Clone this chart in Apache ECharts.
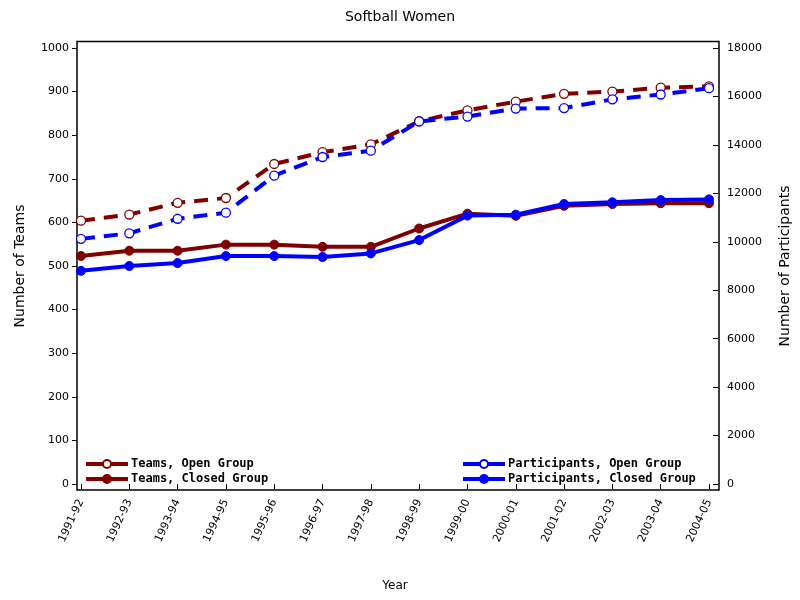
<!DOCTYPE html>
<html>
<head>
<meta charset="utf-8">
<script src="https://cdn.jsdelivr.net/npm/echarts@6/dist/echarts.min.js"></script>
<style>html,body{margin:0;padding:0;background:#fff}#c{width:800px;height:600px}</style>
</head>
<body>
<div id="c"></div>
<script>
var years = ['1991-92','1992-93','1993-94','1994-95','1995-96','1996-97','1997-98','1998-99','1999-00','2000-01','2001-02','2002-03','2003-04','2004-05'];
var teamsOpen = [604, 618, 645, 656, 734, 761, 779, 832, 857, 877, 895, 900, 909, 912];
var teamsClosed = [523, 535, 535, 549, 549, 544, 544, 586, 620, 615, 638, 642, 644, 644];
var partOpen = [10120, 10350, 10950, 11200, 12730, 13500, 13760, 14970, 15170, 15500, 15520, 15880, 16080, 16340];
var partClosed = [8800, 9000, 9120, 9410, 9410, 9370, 9520, 10070, 11080, 11120, 11560, 11630, 11720, 11750];

var DARK = '#800000', BLUE = '#0000ff';
var baseFont = 'DejaVu Sans';
var plain = function (v) { return String(v); };
var legendText = {fontFamily: 'DejaVu Sans Mono', fontSize: 12, fontWeight: 'bold', color: '#000', padding: [0,0,0,-2]};
var chart = echarts.init(document.getElementById('c'), null, {renderer: 'canvas'});
chart.setOption({
  animation: false,
  backgroundColor: '#fff',
  title: {
    text: 'Softball Women', left: 'center', top: 5,
    textStyle: {fontFamily: baseFont, fontWeight: 'normal', fontSize: 14, color: '#000'}
  },
  graphic: [{
    type: 'rect', z: 0, silent: true,
    shape: {x: 77, y: 41.5, width: 642, height: 448.5},
    style: {fill: 'none', stroke: '#000', lineWidth: 1.5}
  }],
  legend: [{
    data: ['Teams, Open Group', 'Teams, Closed Group'],
    orient: 'vertical', left: 79, top: 453, itemGap: 3, itemWidth: 42, itemHeight: 10,
    lineStyle: {width: 4, type: 'solid'},
    textStyle: legendText
  }, {
    data: ['Participants, Open Group', 'Participants, Closed Group'],
    orient: 'vertical', left: 456, top: 453, itemGap: 3, itemWidth: 42, itemHeight: 10,
    lineStyle: {width: 4, type: 'solid'},
    textStyle: legendText
  }],
  grid: {left: 81, right: 85, top: 48, bottom: 116, containLabel: false},
  xAxis: {
    type: 'category', data: years, boundaryGap: false, offset: 6,
    name: 'Year', nameLocation: 'middle', nameGap: 90,
    nameTextStyle: {fontFamily: baseFont, fontSize: 12, color: '#000'},
    axisLine: {show: false},
    axisTick: {show: true, length: 5, alignWithLabel: true, lineStyle: {color: '#000', width: 1}},
    axisLabel: {rotate: 65, fontFamily: baseFont, fontSize: 11, color: '#000', margin: 10, interval: 0},
    splitLine: {show: false}
  },
  yAxis: [{
    type: 'value', min: 0, max: 1000, interval: 100, offset: 4,
    name: 'Number of Teams', nameLocation: 'middle', nameGap: 50,
    nameTextStyle: {fontFamily: baseFont, fontSize: 14, color: '#000'},
    axisLine: {show: false},
    axisTick: {show: true, length: 5, lineStyle: {color: '#000'}},
    axisLabel: {fontFamily: baseFont, fontSize: 11, color: '#000', margin: 8, formatter: plain},
    splitLine: {show: false}
  }, {
    type: 'value', min: 0, max: 18000, interval: 2000, offset: 4, position: 'right',
    name: 'Number of Participants', nameLocation: 'middle', nameGap: 65,
    nameTextStyle: {fontFamily: baseFont, fontSize: 14, color: '#000'},
    axisLine: {show: false},
    axisTick: {show: true, length: 5, lineStyle: {color: '#000'}},
    axisLabel: {fontFamily: baseFont, fontSize: 11, color: '#000', margin: 14, formatter: plain},
    splitLine: {show: false}
  }],
  series: [{
    name: 'Teams, Open Group', type: 'line', data: teamsOpen, yAxisIndex: 0,
    symbol: 'circle', symbolSize: 9, showAllSymbol: true,
    lineStyle: {color: DARK, width: 4, type: [14, 9]},
    itemStyle: {color: '#fff', borderColor: DARK, borderWidth: 1.3}, z: 2
  }, {
    name: 'Teams, Closed Group', type: 'line', data: teamsClosed, yAxisIndex: 0,
    symbol: 'circle', symbolSize: 9, showAllSymbol: true,
    lineStyle: {color: DARK, width: 4},
    itemStyle: {color: DARK, borderColor: DARK, borderWidth: 1}, z: 3
  }, {
    name: 'Participants, Open Group', type: 'line', data: partOpen, yAxisIndex: 1,
    symbol: 'circle', symbolSize: 9, showAllSymbol: true,
    lineStyle: {color: BLUE, width: 4, type: [14, 9]},
    itemStyle: {color: '#fff', borderColor: BLUE, borderWidth: 1.3}, z: 4
  }, {
    name: 'Participants, Closed Group', type: 'line', data: partClosed, yAxisIndex: 1,
    symbol: 'circle', symbolSize: 9, showAllSymbol: true,
    lineStyle: {color: BLUE, width: 4},
    itemStyle: {color: BLUE, borderColor: BLUE, borderWidth: 1}, z: 5
  }]
});
</script>
</body>
</html>
